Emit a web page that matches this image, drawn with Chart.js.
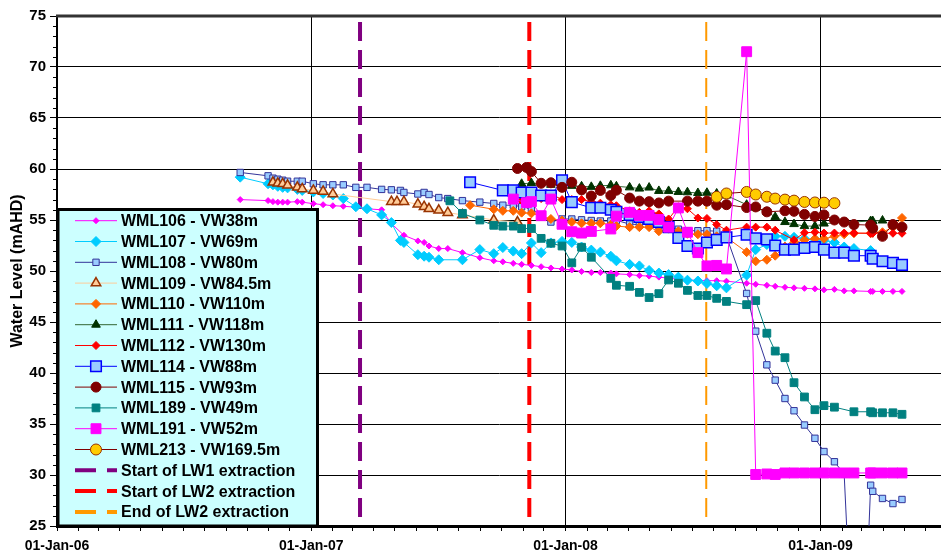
<!DOCTYPE html>
<html>
<head>
<meta charset="utf-8">
<title>Water Level</title>
<script src="https://cdn.jsdelivr.net/npm/chart.js@4.4.1/dist/chart.umd.min.js"></script>
<style>
  html, body { margin: 0; padding: 0; background: #fff; }
</style>
</head>
<body>
<canvas id="grafico" width="941" height="557"></canvas>
<script>
// ==========================================
// Water levels - piezometers WML (2006-2009)
// ==========================================

const wml106 = [["2006-09-21",57.0],["2006-10-31",56.9],["2006-11-07",56.8],["2006-11-14",56.75],["2006-11-21",56.75],["2006-11-28",56.75],["2006-12-12",56.8],["2006-12-19",56.75],["2007-01-04",56.6],["2007-01-18",56.5],["2007-02-01",56.4],["2007-02-16",56.35],["2007-03-06",56.25],["2007-03-22",56.1],["2007-04-12",56.0],["2007-04-26",54.65],["2007-05-14",53.5],["2007-06-03",52.95],["2007-06-12",52.8],["2007-06-19",52.45],["2007-07-03",52.2],["2007-07-16",52.2],["2007-08-06",51.8],["2007-08-31",51.3],["2007-09-20",51.0],["2007-10-03",50.9],["2007-10-18",50.75],["2007-10-30",50.65],["2007-11-13",50.55],["2007-11-27",50.42],["2007-12-11",50.3],["2007-12-27",50.2],["2008-01-10",50.1],["2008-01-24",49.95],["2008-02-07",49.85],["2008-02-20",49.85],["2008-03-06",49.8],["2008-03-14",49.72],["2008-04-02",49.65],["2008-04-16",49.55],["2008-04-30",49.5],["2008-05-14",49.4],["2008-05-28",49.3],["2008-06-11",49.2],["2008-06-24",49.1],["2008-07-09",49.1],["2008-07-22",49.05],["2008-08-05",49.05],["2008-08-19",49.0],["2008-09-17",48.8],["2008-09-30",48.7],["2008-10-16",48.6],["2008-10-28",48.5],["2008-11-11",48.4],["2008-11-24",48.35],["2008-12-09",48.3],["2008-12-24",48.25],["2009-01-06",48.15],["2009-01-21",48.2],["2009-02-04",48.05],["2009-02-18",48.05],["2009-03-14",48.0],["2009-03-17",48.0],["2009-03-31",48.0],["2009-04-15",48.0],["2009-04-28",48.0]];

const wml107 = [["2006-09-21",59.2],["2006-10-31",58.55],["2006-11-07",58.45],["2006-11-14",58.3],["2006-11-21",58.2],["2006-11-28",58.15],["2006-12-12",58.0],["2006-12-19",57.9],["2007-01-04",57.75],["2007-01-18",57.6],["2007-02-01",57.45],["2007-02-16",57.1],["2007-03-06",56.3],["2007-03-22",56.1],["2007-04-12",55.5],["2007-04-26",54.75],["2007-05-09",53.0],["2007-05-14",52.8],["2007-06-03",51.6],["2007-06-12",51.45],["2007-06-19",51.35],["2007-07-03",51.1],["2007-08-06",51.1],["2007-08-31",52.1],["2007-09-20",51.7],["2007-10-03",52.3],["2007-10-18",51.95],["2007-10-30",51.7],["2007-11-13",52.75],["2007-11-27",51.8],["2007-12-11",52.75],["2007-12-27",52.9],["2008-01-10",52.8],["2008-01-24",52.35],["2008-02-07",52.05],["2008-02-20",51.85],["2008-03-06",51.45],["2008-03-14",51.0],["2008-04-02",50.65],["2008-04-16",50.5],["2008-04-30",50.05],["2008-05-14",49.8],["2008-05-28",49.65],["2008-06-11",49.4],["2008-06-24",49.1],["2008-07-09",49.02],["2008-07-22",48.78],["2008-08-05",48.55],["2008-08-19",48.35],["2008-09-17",49.6],["2008-09-30",52.1],["2008-10-16",52.6],["2008-10-28",53.4],["2008-11-11",53.4],["2008-11-24",53.3],["2008-12-09",53.15],["2008-12-24",53.1],["2009-01-06",53.0],["2009-01-21",52.8],["2009-02-04",52.35],["2009-02-18",52.2],["2009-03-14",52.0]];

const wml108 = [["2006-09-21",59.66],["2006-10-31",59.33],["2006-11-07",59.1],["2006-11-14",59.0],["2006-11-21",58.9],["2006-11-28",58.8],["2006-12-12",58.8],["2006-12-19",58.8],["2007-01-04",58.55],["2007-01-18",58.45],["2007-02-01",58.45],["2007-02-16",58.45],["2007-03-06",58.2],["2007-03-22",58.2],["2007-04-12",58.0],["2007-04-26",57.96],["2007-05-09",57.9],["2007-05-14",57.7],["2007-06-03",57.55],["2007-06-12",57.7],["2007-06-19",57.5],["2007-07-03",57.2],["2007-07-16",57.1],["2007-08-06",56.9],["2007-08-31",56.75],["2007-09-20",56.62],["2007-10-03",56.45],["2007-10-18",56.45],["2007-10-30",56.3],["2007-11-13",56.1],["2007-11-27",55.5],["2007-12-11",54.8],["2007-12-27",55.1],["2008-01-10",55.1],["2008-01-24",55.02],["2008-02-07",54.95],["2008-02-20",54.9],["2008-03-06",54.9],["2008-03-14",54.97],["2008-04-02",54.6],["2008-04-16",54.55],["2008-04-30",54.6],["2008-05-14",54.45],["2008-05-28",54.3],["2008-06-11",54.1],["2008-06-24",53.95],["2008-07-09",53.95],["2008-07-22",53.95],["2008-08-05",53.9],["2008-08-19",53.4],["2008-09-17",47.8],["2008-09-30",44.1],["2008-10-16",40.8],["2008-10-28",39.3],["2008-11-11",37.5],["2008-11-24",36.3],["2008-12-09",34.9],["2008-12-24",33.6],["2009-01-06",32.3],["2009-01-21",31.3],["2009-02-04",30.1],["2009-02-25",0.0],["2009-03-14",29.0],["2009-03-17",28.4],["2009-03-31",27.7],["2009-04-15",27.2],["2009-04-28",27.6]];

const wml109 = [["2006-11-07",58.7],["2006-11-14",58.6],["2006-11-21",58.55],["2006-11-28",58.4],["2006-12-12",58.2],["2006-12-19",58.05],["2007-01-04",57.9],["2007-01-18",57.8],["2007-02-01",57.55],["2007-04-26",56.8],["2007-05-04",56.8],["2007-05-14",56.8],["2007-06-03",56.55],["2007-06-12",56.3],["2007-06-19",56.1],["2007-07-03",55.95],["2007-07-16",55.72],["2007-08-06",55.5],["2007-09-20",55.0],["2007-10-24",54.8]];

const wml110 = [["2007-08-17",56.45],["2007-09-20",56.05],["2007-10-03",55.9],["2007-10-18",55.9],["2007-10-30",55.72],["2007-11-13",55.65],["2007-12-11",55.1],["2007-12-27",54.95],["2008-01-10",54.8],["2008-01-24",54.68],["2008-02-07",54.68],["2008-02-20",54.68],["2008-03-06",54.55],["2008-03-14",54.4],["2008-04-02",54.3],["2008-04-16",54.3],["2008-04-30",54.3],["2008-05-14",53.9],["2008-05-28",54.15],["2008-06-11",53.9],["2008-06-24",53.65],["2008-07-09",53.6],["2008-07-22",53.6],["2008-08-05",53.4],["2008-08-19",53.3],["2008-09-17",51.85],["2008-09-30",50.95],["2008-10-16",51.1],["2008-10-28",51.5],["2008-11-11",52.4],["2008-11-24",52.8],["2008-12-09",53.05],["2008-12-24",53.15],["2009-01-06",53.15],["2009-01-21",53.4],["2009-02-04",53.6],["2009-02-18",53.7],["2009-03-14",53.7],["2009-03-17",53.75],["2009-03-31",53.8],["2009-04-15",54.3],["2009-04-28",55.2]];

const wml111 = [["2007-10-30",58.55],["2007-11-13",58.62],["2007-12-11",58.45],["2007-12-27",58.4],["2008-01-10",58.35],["2008-01-24",58.3],["2008-02-07",58.25],["2008-02-20",58.35],["2008-03-06",58.4],["2008-03-14",58.3],["2008-04-02",58.2],["2008-04-16",58.08],["2008-04-30",58.18],["2008-05-14",57.85],["2008-05-28",57.85],["2008-06-11",57.75],["2008-06-24",57.72],["2008-07-09",57.65],["2008-07-22",57.67],["2008-08-05",57.6],["2008-08-19",57.4],["2008-09-17",56.5],["2008-09-30",56.2],["2008-10-16",55.8],["2008-10-28",55.3],["2008-11-11",54.8],["2008-11-24",54.6],["2008-12-09",54.4],["2008-12-24",54.4],["2009-01-06",54.65],["2009-03-14",54.9],["2009-03-17",54.9],["2009-03-31",54.95]];

const wml112 = [["2007-10-30",56.9],["2007-11-13",56.9],["2007-11-27",57.1],["2007-12-11",57.55],["2007-12-27",57.0],["2008-01-10",57.0],["2008-01-24",57.0],["2008-02-07",56.8],["2008-02-20",56.65],["2008-03-06",56.5],["2008-03-14",56.4],["2008-04-02",55.9],["2008-04-16",55.75],["2008-04-30",55.9],["2008-05-14",55.6],["2008-05-28",55.1],["2008-06-11",56.3],["2008-06-24",56.1],["2008-07-09",55.2],["2008-07-22",55.15],["2008-08-05",54.55],["2008-08-19",54.0],["2008-09-17",54.3],["2008-09-30",54.3],["2008-10-16",54.3],["2008-10-28",54.0],["2008-11-24",53.05],["2008-12-09",53.75],["2008-12-24",53.8],["2009-01-06",53.72],["2009-01-21",53.72],["2009-02-04",53.72],["2009-02-18",53.72],["2009-03-14",53.7],["2009-03-17",53.7],["2009-03-31",53.7],["2009-04-15",53.7],["2009-04-28",53.7]];

const wml114 = [["2007-08-17",58.7],["2007-10-03",57.9],["2007-10-18",57.9],["2007-10-30",57.7],["2007-11-13",57.7],["2007-11-27",57.4],["2007-12-11",57.4],["2007-12-27",58.9],["2008-01-10",56.75],["2008-02-07",56.2],["2008-02-20",56.2],["2008-03-06",56.0],["2008-03-14",55.8],["2008-04-02",55.5],["2008-04-16",55.3],["2008-04-30",55.1],["2008-05-14",54.8],["2008-05-28",54.3],["2008-06-11",53.25],["2008-06-24",52.45],["2008-07-09",52.2],["2008-07-22",52.8],["2008-08-05",53.05],["2008-08-19",53.3],["2008-09-17",53.55],["2008-09-30",53.2],["2008-10-16",53.1],["2008-10-28",52.5],["2008-11-11",52.1],["2008-11-24",52.1],["2008-12-09",52.25],["2008-12-24",52.35],["2009-01-06",52.1],["2009-01-21",51.8],["2009-02-04",51.8],["2009-02-18",51.5],["2009-03-14",51.5],["2009-03-17",51.2],["2009-03-31",50.95],["2009-04-15",50.8],["2009-04-28",50.6]];

const wml115 = [["2007-10-24",60.05],["2007-11-06",60.15],["2007-11-13",59.75],["2007-11-27",58.6],["2007-12-11",58.65],["2007-12-27",58.2],["2008-01-10",58.7],["2008-01-24",57.95],["2008-02-07",57.35],["2008-02-20",57.9],["2008-03-06",57.4],["2008-03-14",57.92],["2008-04-02",57.15],["2008-04-16",56.85],["2008-04-30",56.8],["2008-05-14",56.67],["2008-05-28",56.85],["2008-06-24",56.85],["2008-07-09",56.85],["2008-07-22",56.85],["2008-08-05",56.45],["2008-08-19",56.5],["2008-09-17",56.22],["2008-09-30",56.28],["2008-10-16",55.8],["2008-11-11",55.9],["2008-11-24",55.85],["2008-12-09",55.55],["2008-12-24",55.35],["2009-01-06",55.5],["2009-01-21",55.0],["2009-02-04",54.8],["2009-02-18",54.55],["2009-03-14",54.5],["2009-03-17",54.2],["2009-03-31",53.4],["2009-04-15",54.55],["2009-04-28",54.3]];

const wml189 = [["2007-07-19",56.88],["2007-08-06",55.65],["2007-08-31",55.0],["2007-09-20",54.48],["2007-10-03",54.4],["2007-10-18",54.4],["2007-10-30",54.15],["2007-11-13",54.17],["2007-11-27",53.2],["2007-12-11",52.72],["2007-12-27",52.45],["2008-01-10",50.8],["2008-01-24",52.33],["2008-02-07",51.35],["2008-03-06",49.28],["2008-03-14",48.6],["2008-04-02",48.5],["2008-04-16",47.9],["2008-04-30",47.4],["2008-05-14",47.78],["2008-05-28",49.12],["2008-06-11",48.8],["2008-06-24",48.1],["2008-07-09",47.6],["2008-07-22",47.6],["2008-08-05",47.32],["2008-08-19",47.02],["2008-09-17",46.7],["2008-09-30",47.1],["2008-10-16",43.9],["2008-10-28",42.15],["2008-11-11",41.5],["2008-11-24",39.05],["2008-12-09",37.65],["2008-12-24",36.4],["2009-01-06",36.8],["2009-01-21",36.65],["2009-02-18",36.2],["2009-03-14",36.2],["2009-03-17",36.1],["2009-03-31",36.1],["2009-04-15",36.1],["2009-04-28",35.95]];

const wml191 = [["2007-10-18",57.05],["2007-11-06",56.7],["2007-11-13",56.8],["2007-11-27",55.42],["2007-12-11",57.05],["2007-12-27",54.58],["2008-01-10",53.85],["2008-01-24",53.72],["2008-02-07",53.88],["2008-03-06",54.12],["2008-03-14",55.38],["2008-04-02",55.75],["2008-04-16",55.45],["2008-04-30",55.45],["2008-05-14",55.05],["2008-05-28",54.3],["2008-06-11",56.18],["2008-06-24",53.8],["2008-07-09",51.8],["2008-07-22",50.5],["2008-08-05",50.55],["2008-08-19",50.2],["2008-09-17",71.5],["2008-09-30",30.05],["2008-10-16",30.1],["2008-10-28",30.05],["2008-11-11",30.2],["2008-11-24",30.2],["2008-12-09",30.2],["2008-12-24",30.2],["2009-01-06",30.2],["2009-01-21",30.2],["2009-02-04",30.2],["2009-02-18",30.2],["2009-03-14",30.2],["2009-03-17",30.2],["2009-03-31",30.2],["2009-04-15",30.2],["2009-04-28",30.2]];

const wml213 = [["2008-08-05",57.27],["2008-08-19",57.6],["2008-09-17",57.75],["2008-09-30",57.5],["2008-10-16",57.28],["2008-10-28",57.1],["2008-11-11",57.0],["2008-11-24",56.9],["2008-12-09",56.77],["2008-12-24",56.72],["2009-01-06",56.7],["2009-01-21",56.65]];

// extraction events (vertical dashed lines)
const eventDates = ["2007-03-12", "2007-11-10", "2008-07-21"];
const eventLabels = ["Start of LW1 extraction", "Start of LW2 extraction", "End of LW2 extraction"];

// axes
const yTicks = [25, 30, 35, 40, 45, 50, 55, 60, 65, 70, 75];
const xStart = "2006-01-01";
const xEnd = "2009-06-23";

const FONT = "'Liberation Sans', Arial, sans-serif";

const toPoints = rows => rows.map(r => ({ x: Date.parse(r[0]), y: r[1] }));

function serie(label, rows, line, style, radius, fill, border, bw) {
    return {
        label: label,
        data: toPoints(rows),
        borderColor: line,
        borderWidth: 1,
        backgroundColor: fill,
        pointStyle: style,
        pointRadius: radius,
        pointBackgroundColor: fill,
        pointBorderColor: border,
        pointBorderWidth: bw,
        tension: 0
    };
}

const series = [
    serie("WML106 - VW38m",    wml106, "#FF00FF", "rectRot",  3,   "#FF00FF", "#FF00FF", 1),
    serie("WML107 - VW69m",    wml107, "#00CCFF", "rectRot",  5,   "#00CCFF", "#00CCFF", 1),
    serie("WML108 - VW80m",    wml108, "#333399", "rect",     4.5, "#99CCFF", "#333399", 1),
    serie("WML109 - VW84.5m",  wml109, "#FFCC99", "triangle", 5.5, "#FFCC99", "#993300", 1.5),
    serie("WML110 - VW110m",   wml110, "#FF6600", "rectRot",  4.5, "#FF6600", "#FF6600", 1),
    serie("WML111 - VW118m",   wml111, "#336633", "triangle", 5,   "#003300", "#003300", 1),
    serie("WML112 - VW130m",   wml112, "#FF0000", "rectRot",  4,   "#FF0000", "#FF0000", 1),
    serie("WML114 - VW88m",    wml114, "#0000FF", "rect",     7.5, "#99CCFF", "#0000FF", 1.5),
    serie("WML115 - VW93m",    wml115, "#800000", "circle",   5,   "#800000", "#800000", 1),
    serie("WML189 - VW49m",    wml189, "#008080", "rect",     5.5, "#008080", "#008080", 1),
    serie("WML191 - VW52m",    wml191, "#FF00FF", "rect",     7,   "#FF00FF", "#FF00FF", 1),
    serie("WML213 - VW169.5m", wml213, "#800000", "circle",   5.5, "#FFCC00", "#993300", 1)
];
series.forEach((s, i) => { s.order = 20 - i; });

const eventColors = ["#800080", "#FF0000", "#FF9900"];
const eventWidths = [4, 4, 2];
const events = eventDates.map((d, i) => ({
    label: eventLabels[i],
    data: [{ x: Date.parse(d), y: 74.4 }, { x: Date.parse(d), y: 25 }],
    borderColor: eventColors[i],
    borderWidth: eventWidths[i],
    borderDash: [19, 9],
    pointRadius: 0,
    order: 100,
    isEvent: true
}));

function drawMarker(c, style, x, y, r, fill, stroke, bw) {
    c.beginPath();
    if (style === "circle") {
        c.arc(x, y, r, 0, Math.PI * 2);
    } else if (style === "rect") {
        const s = r * Math.SQRT1_2;
        c.rect(x - s, y - s, 2 * s, 2 * s);
    } else if (style === "rectRot") {
        c.moveTo(x, y - r); c.lineTo(x + r, y); c.lineTo(x, y + r); c.lineTo(x - r, y); c.closePath();
    } else if (style === "triangle") {
        let a = 0;
        c.moveTo(x + Math.sin(a) * r, y - Math.cos(a) * r);
        a += Math.PI * 2 / 3;
        c.lineTo(x + Math.sin(a) * r, y - Math.cos(a) * r);
        a += Math.PI * 2 / 3;
        c.lineTo(x + Math.sin(a) * r, y - Math.cos(a) * r);
        c.closePath();
    }
    c.fillStyle = fill;
    c.fill();
    if (bw) { c.lineWidth = bw; c.strokeStyle = stroke; c.stroke(); }
}

// minor ticks, top border, axis title and the boxed legend
const extras = {
    id: "extras",
    afterDraw(chart) {
        const c = chart.ctx;
        const a = chart.chartArea;
        const y = chart.scales.y;
        c.save();

        c.strokeStyle = "#000";
        c.lineWidth = 1;
        for (let v = 26; v < 75; v++) {
            if (v % 5 === 0) continue;
            const py = Math.round(y.getPixelForValue(v)) + 0.5;
            c.beginPath(); c.moveTo(a.left - 4, py); c.lineTo(a.left, py); c.stroke();
        }

        c.strokeStyle = "#333";
        c.lineWidth = 3;
        c.beginPath(); c.moveTo(a.left - 1, a.top); c.lineTo(a.right, a.top); c.stroke();

        c.save();
        c.translate(17.5, (a.top + a.bottom) / 2);
        c.rotate(-Math.PI / 2);
        c.font = "bold 16px " + FONT;
        c.fillStyle = "#000";
        c.textAlign = "center";
        c.textBaseline = "middle";
        c.fillText("Water Level (mAHD)", 0, 0);
        c.restore();

        // legend box
        const bx = a.left + 1, by = 209.5, bw = 317.5 - bx, bh = a.bottom - by;
        c.fillStyle = "#CCFFFF";
        c.fillRect(bx, by, bw, bh);
        c.strokeStyle = "#000";
        c.lineWidth = 3;
        c.strokeRect(bx, by, bw, bh);

        c.font = "bold 16px " + FONT;
        c.textBaseline = "middle";
        c.textAlign = "left";
        chart.data.datasets.forEach((ds, i) => {
            const ly = 220.7 + i * 20.8;
            c.save();
            c.strokeStyle = ds.borderColor;
            if (ds.isEvent) {
                c.lineWidth = 4;
                c.setLineDash([21, 11]);
            } else {
                c.lineWidth = ds.borderWidth;
            }
            c.beginPath(); c.moveTo(75, ly); c.lineTo(117, ly); c.stroke();
            c.restore();
            if (!ds.isEvent) {
                drawMarker(c, ds.pointStyle, 96, ly, ds.pointRadius, ds.pointBackgroundColor, ds.pointBorderColor, ds.pointBorderWidth);
            }
            c.fillStyle = "#000";
            c.fillText(ds.label, 121, ly + 1);
        });

        c.restore();
    }
};

const ctx = document.getElementById("grafico");

new Chart(ctx, {
    type: "line",
    data: {
        datasets: series.concat(events)
    },
    options: {
        responsive: false,
        animation: false,
        events: [],
        layout: {
            autoPadding: false,
            padding: { top: 16, left: 0, right: 0, bottom: 0 }
        },
        plugins: {
            legend: { display: false },
            tooltip: { enabled: false }
        },
        scales: {
            x: {
                type: "linear",
                min: Date.parse(xStart),
                max: Date.parse(xEnd),
                afterFit: s => { s.height = 31; s.paddingRight = 0; s.paddingLeft = 0; },
                afterBuildTicks: s => {
                    const t = [];
                    for (let yr = 2006; yr <= 2009; yr++) {
                        for (let m = 0; m < 12; m++) {
                            const v = Date.UTC(yr, m, 1);
                            if (v <= s.max) t.push({ value: v });
                        }
                    }
                    s.ticks = t;
                },
                ticks: {
                    autoSkip: false,
                    maxRotation: 0,
                    minRotation: 0,
                    padding: 7,
                    color: "#000",
                    font: { family: FONT, size: 14, weight: "bold" },
                    callback: v => {
                        const d = new Date(v);
                        return d.getUTCMonth() === 0 ? "01-Jan-" + String(d.getUTCFullYear()).slice(2) : "";
                    }
                },
                grid: {
                    color: c => (c.tick && c.index > 0 && new Date(c.tick.value).getUTCMonth() === 0) ? "#000" : "rgba(0,0,0,0)",
                    tickColor: "#000",
                    tickLength: 5,
                    lineWidth: 1
                },
                border: { display: true, color: "#000", width: 3 }
            },
            y: {
                min: 25,
                max: 75,
                afterFit: s => { s.width = 57; },
                afterBuildTicks: s => { s.ticks = yTicks.map(v => ({ value: v })); },
                ticks: {
                    padding: 4,
                    color: "#000",
                    font: { family: FONT, size: 15, weight: "bold" }
                },
                grid: {
                    color: "#000",
                    tickColor: "#000",
                    tickLength: 7,
                    lineWidth: 1
                },
                border: { display: true, color: "#000", width: 2 }
            }
        }
    },
    plugins: [extras]
});
</script>
</body>
</html>
